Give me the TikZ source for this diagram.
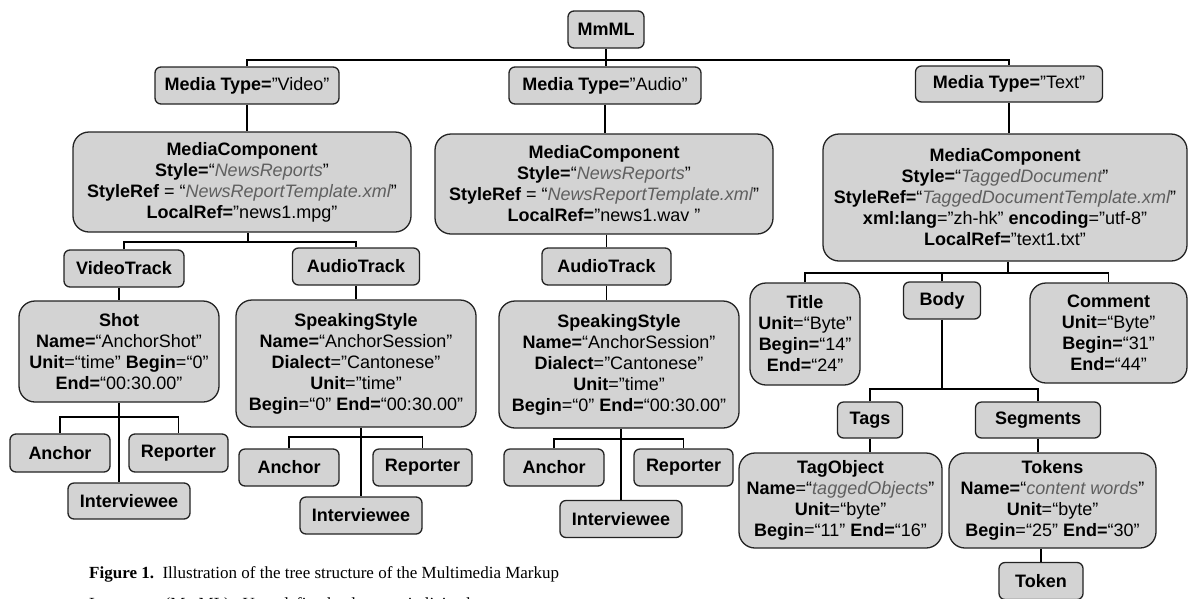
\documentclass[tikz,border=0pt]{standalone}
\usepackage{fontspec}
\setmainfont{Liberation Sans}
\newfontfamily\capfont{Liberation Serif}
\definecolor{boxfill}{RGB}{211,211,211}
\definecolor{boxline}{RGB}{35,35,35}
\definecolor{valgray}{RGB}{95,95,95}
\newcommand\uv[1]{{\color{valgray}\itshape #1}}
\newcommand\kb[1]{\textbf{#1}}
\begin{document}
\begin{tikzpicture}[x=1pt,y=-1pt,
  nd/.style={draw=boxline, fill=boxfill, line width=1.3pt, rounded corners=6pt,
    align=center, inner sep=0pt, font=\fontsize{18}{21}\selectfont},
  bignd/.style={nd, rounded corners=16pt},
  sz/.style 2 args={minimum width=#1, minimum height=#2},
  conn/.style={line width=1.7pt, black},
  captext/.style={anchor=base west, inner sep=0pt, font=\capfont\fontsize{17}{20}\selectfont}]
\useasboundingbox (0,0) rectangle (1190,598);

% level 0/1
\node[nd, sz={76}{37}] (mm) at (606,29.5) {\kb{MmML}};
\node[nd, sz={184}{37}] (tv) at (247,85.5) {\kb{Media Type=}”Video”};
\node[nd, sz={192}{37}] (ta) at (605,85.5) {\kb{Media Type=}”Audio”};
\node[nd, sz={187}{36}] (tt) at (1009,84) {\kb{Media Type=}”Text”};

% media components
\node[bignd, sz={338}{100}] (mcv) at (242,182) {\kb{MediaComponent}\\ \kb{Style=}“\uv{NewsReports}”\\ \kb{StyleRef} = “\uv{NewsReportTemplate.xml}”\\ \kb{LocalRef=}”news1.mpg”};
\node[bignd, sz={338}{100}] (mca) at (604,184) {\kb{MediaComponent}\\ \kb{Style=}“\uv{NewsReports}”\\ \kb{StyleRef} = “\uv{NewsReportTemplate.xml}”\\ \kb{LocalRef=}”news1.wav ”};
\node[bignd, sz={364}{127}] (mct) at (1005,197.5) {\kb{MediaComponent}\\ \kb{Style=}“\uv{TaggedDocument}”\\ \kb{StyleRef=}“\uv{TaggedDocumentTemplate.xml}”\\ \kb{xml:lang}="zh-hk" \kb{encoding}="utf-8"\\ \kb{LocalRef=}”text1.txt”};

% video subtree
\node[nd, sz={120}{37}] (vtr) at (124,268.5) {\kb{VideoTrack}};
\node[nd, sz={127}{37}] (atr1) at (356,266.5) {\kb{AudioTrack}};
\node[bignd, sz={200}{101}] (shot) at (119,351.5) {\kb{Shot}\\ \kb{Name=}“AnchorShot”\\ \kb{Unit}=“time” \kb{Begin}=“0”\\ \kb{End=}“00:30.00”};
\node[bignd, sz={240}{127}] (ss1) at (356,363.5) {\kb{SpeakingStyle}\\ \kb{Name=}“AnchorSession”\\ \kb{Dialect}=”Cantonese”\\ \kb{Unit}=”time”\\ \kb{Begin}=“0” \kb{End=}“00:30.00”};
\node[nd, sz={100}{38}] (an1) at (60,453) {\kb{Anchor}};
\node[nd, sz={99}{38}] (re1) at (178.5,453) {\kb{Reporter}};
\node[nd, sz={122}{36}] (iv1) at (129,501) {\kb{Interviewee}};
\node[nd, sz={100}{37}] (an2) at (289,467.5) {\kb{Anchor}};
\node[nd, sz={99}{37}] (re2) at (422.5,467.5) {\kb{Reporter}};
\node[nd, sz={122}{37}] (iv2) at (361,515.5) {\kb{Interviewee}};

% audio subtree
\node[nd, sz={129}{37}] (atr2) at (606.5,266.5) {\kb{AudioTrack}};
\node[bignd, sz={240}{127}] (ss2) at (619,364.5) {\kb{SpeakingStyle}\\ \kb{Name=}“AnchorSession”\\ \kb{Dialect}=”Cantonese”\\ \kb{Unit}=”time”\\ \kb{Begin}=“0” \kb{End=}“00:30.00”};
\node[nd, sz={100}{37}] (an3) at (554,467.5) {\kb{Anchor}};
\node[nd, sz={99}{37}] (re3) at (683.5,467.5) {\kb{Reporter}};
\node[nd, sz={122}{37}] (iv3) at (621,519) {\kb{Interviewee}};

% text subtree
\node[bignd, sz={110}{102}] (title) at (805,334) {\kb{Title}\\ \kb{Unit}=“Byte”\\ \kb{Begin=}“14”\\ \kb{End=}“24”};
\node[nd, sz={77}{37}] (body) at (942,300.5) {\kb{Body}};
\node[bignd, sz={157}{100}] (comment) at (1108.5,333) {\kb{Comment}\\ \kb{Unit}=“Byte”\\ \kb{Begin=}“31”\\ \kb{End=}“44”};
\node[nd, sz={65}{36}] (tags) at (870,420) {\kb{Tags}};
\node[nd, sz={125}{36}] (segs) at (1038,420) {\kb{Segments}};
\node[bignd, sz={203}{95}] (tago) at (840.5,500.5) {\kb{TagObject}\\ \kb{Name}=“\uv{taggedObjects}”\\ \kb{Unit}=“byte”\\ \kb{Begin}=“11” \kb{End=}“16”};
\node[bignd, sz={207}{95}] (toks) at (1052.5,500.5) {\kb{Tokens}\\ \kb{Name=}“\uv{content words}”\\ \kb{Unit}=“byte”\\ \kb{Begin}=“25” \kb{End=}“30”};
\node[nd, sz={84}{37}] (token) at (1041,581) {\kb{Token}};

% caption
\node[captext] (cap1) at (89,578) {\textbf{Figure 1.}\ \ Illustration of the tree structure of the Multimedia Markup};
\node[captext] (cap2) at (89,609) {Language\ \ (MmML).\ \ User-defined values are italicized};

% junction coordinates
\coordinate (j0) at (606,60);
\coordinate (jv) at (248,242);
\coordinate (js) at (119,417);
\coordinate (js2) at (361,437);
\coordinate (js3) at (622,439);
\coordinate (jt) at (1008,273);
\coordinate (jb) at (942,389);

% connectors
\begin{scope}[conn]
\draw (mm.south) -- (mm.south |- ta.north);
\draw (tv.north) |- (j0) -| (tt.north);
\draw (tv.south) -- (tv.south |- mcv.north);
\draw (mcv.south -| jv) -- (jv);
\draw (vtr.north) |- (jv) -| (atr1.north);
\draw (shot.north |- vtr.south) -- (shot.north);
\draw (atr1.south) -- (atr1.south |- ss1.north);
\draw (shot.south) -- (shot.south |- iv1.north);
\draw (an1.north) |- (js) -| (re1.north);
\draw (iv2.north |- ss1.south) -- (iv2.north);
\draw (an2.north) |- (js2) -| (re2.north);
\draw (ta.south) -- (ta.south |- mca.north);
\draw (mca.south -| atr2.north) -- (atr2.north);
\draw (atr2.south) -- (atr2.south |- ss2.north);
\draw (iv3.north |- ss2.south) -- (iv3.north);
\draw (an3.north) |- (js3) -| (re3.north);
\draw (tt.south) -- (tt.south |- mct.north);
\draw (mct.south -| jt) -- (jt);
\draw (title.north) |- (jt) -| (comment.north);
\draw (body.north) -- (body.north |- jt);
\draw (body.south) -- (jb);
\draw (tags.north) |- (jb) -| (segs.north);
\draw (tags.south) -- (tags.south |- tago.north);
\draw (segs.south) -- (segs.south |- toks.north);
\draw (toks.south -| token.north) -- (token.north);
\end{scope}
\end{tikzpicture}
\end{document}
